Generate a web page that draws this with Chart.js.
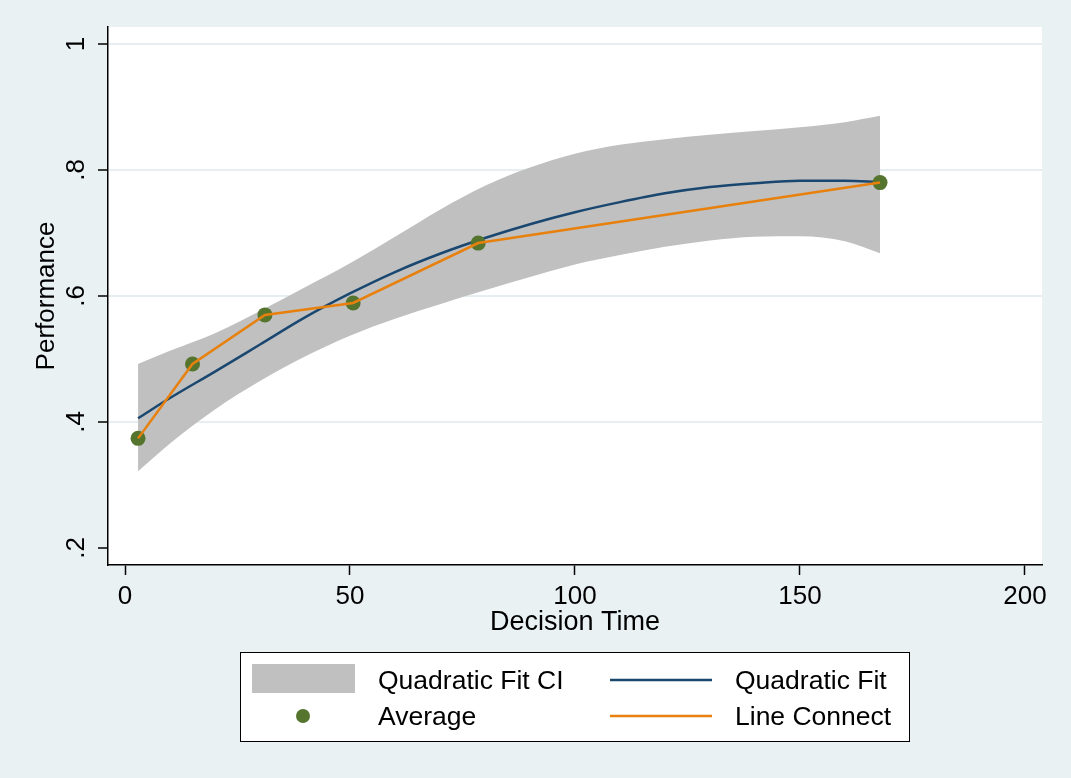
<!DOCTYPE html>
<html>
<head>
<meta charset="utf-8">
<title>Performance vs Decision Time</title>
<script src="https://cdn.jsdelivr.net/npm/chart.js@4"></script>
<style>
  html, body { margin: 0; padding: 0; background: #eaf1f3; }
  canvas { display: block; }
</style>
</head>
<body>
<canvas id="grafica" width="1071" height="778"></canvas>
<script>
// valores
const avgTime = [2.9, 15.0, 31.1, 50.7, 78.5, 167.8];
const avgPerf = [0.374, 0.492, 0.570, 0.589, 0.684, 0.780];

const fitTime = [2.9, 10, 20, 30, 40, 50, 60, 70, 80, 90, 100, 110, 120, 130, 140, 150, 160, 167.8];
const fitPerf = [0.406, 0.438, 0.480, 0.523, 0.566, 0.604, 0.638, 0.667, 0.692, 0.714, 0.733, 0.749, 0.763, 0.773, 0.779, 0.783, 0.783, 0.781];
const ciUpper = [0.492, 0.513, 0.541, 0.576, 0.614, 0.652, 0.694, 0.737, 0.775, 0.804, 0.826, 0.840, 0.849, 0.856, 0.862, 0.868, 0.876, 0.886];
const ciLower = [0.322, 0.366, 0.420, 0.465, 0.504, 0.537, 0.564, 0.587, 0.609, 0.630, 0.650, 0.665, 0.678, 0.688, 0.694, 0.695, 0.687, 0.668];

const xTicks = [0, 50, 100, 150, 200];
const yTicks = [0.2, 0.4, 0.6, 0.8, 1];

const FONT = "'Liberation Sans', Arial, sans-serif";
const GRID = "#e6eef1";

const toPoints = (xs, ys) => xs.map((x, i) => ({ x: x, y: ys[i] }));
const stataLabel = v => (v === 1 ? "1" : String(v).replace("0.", "."));

// fondo blanco del area de trazado
const plotBackground = {
  id: "plotBackground",
  beforeDraw(chart) {
    const { ctx, chartArea: a } = chart;
    ctx.save();
    ctx.fillStyle = "#ffffff";
    ctx.fillRect(a.left, a.top, a.right - a.left, a.bottom - a.top);
    ctx.restore();
  }
};

// etiquetas del eje y giradas, como en Stata
const yLabels = {
  id: "yLabels",
  afterDraw(chart) {
    const { ctx } = chart;
    const y = chart.scales.y;
    ctx.save();
    ctx.fillStyle = "#000";
    ctx.font = "26px " + FONT;
    ctx.textAlign = "center";
    ctx.textBaseline = "middle";
    y.ticks.forEach(t => {
      const py = y.getPixelForValue(t.value);
      ctx.save();
      ctx.translate(77, py);
      ctx.rotate(-Math.PI / 2);
      ctx.fillText(stataLabel(t.value), 0, 0);
      ctx.restore();
    });
    ctx.restore();
  }
};

// leyenda en caja de dos columnas
const boxLegend = {
  id: "boxLegend",
  afterDraw(chart) {
    const { ctx } = chart;
    const ds = chart.data.datasets;
    const band = ds[0], fit = ds[2], avg = ds[3], conn = ds[4];
    ctx.save();
    ctx.fillStyle = "#ffffff";
    ctx.fillRect(240, 652, 669, 89);
    ctx.strokeStyle = "#000";
    ctx.lineWidth = 1;
    ctx.strokeRect(240.5, 652.5, 669, 89);

    const row1 = 680, row2 = 716;
    ctx.fillStyle = band.backgroundColor;
    ctx.fillRect(252, 664, 103, 29);

    ctx.strokeStyle = fit.borderColor;
    ctx.lineWidth = fit.borderWidth;
    ctx.beginPath(); ctx.moveTo(610, row1); ctx.lineTo(712, row1); ctx.stroke();

    ctx.fillStyle = avg.pointBackgroundColor;
    ctx.beginPath(); ctx.arc(303, row2, 7, 0, Math.PI * 2); ctx.fill();

    ctx.strokeStyle = conn.borderColor;
    ctx.lineWidth = conn.borderWidth;
    ctx.beginPath(); ctx.moveTo(610, row2); ctx.lineTo(712, row2); ctx.stroke();

    ctx.fillStyle = "#000";
    ctx.font = "26.5px " + FONT;
    ctx.textAlign = "left";
    ctx.textBaseline = "middle";
    ctx.fillText(band.label, 378, row1 + 2);
    ctx.fillText(fit.label, 735, row1 + 2);
    ctx.fillText(avg.label, 378, row2 + 2);
    ctx.fillText(conn.label, 735, row2 + 2);
    ctx.restore();
  }
};

const ctx = document.getElementById("grafica").getContext("2d");
const chart = new Chart(ctx, {
  type: "line",
  data: {
    datasets: [
      {
        label: "Quadratic Fit CI",
        data: toPoints(fitTime, ciUpper),
        backgroundColor: "#c0c0c0",
        borderWidth: 0,
        pointRadius: 0,
        fill: "+1",
        cubicInterpolationMode: "monotone",
        order: 5
      },
      {
        label: "lower",
        data: toPoints(fitTime, ciLower),
        borderWidth: 0,
        pointRadius: 0,
        fill: false,
        cubicInterpolationMode: "monotone",
        order: 4
      },
      {
        label: "Quadratic Fit",
        data: toPoints(fitTime, fitPerf),
        borderColor: "#1a476f",
        borderWidth: 2.5,
        pointRadius: 0,
        fill: false,
        cubicInterpolationMode: "monotone",
        order: 3
      },
      {
        label: "Average",
        data: toPoints(avgTime, avgPerf),
        showLine: false,
        pointRadius: 7.5,
        pointBackgroundColor: "#55752f",
        pointBorderWidth: 0,
        borderColor: "#55752f",
        order: 2
      },
      {
        label: "Line Connect",
        data: toPoints(avgTime, avgPerf),
        borderColor: "#e8800d",
        borderWidth: 2.5,
        pointRadius: 0,
        fill: false,
        tension: 0,
        order: 1
      }
    ]
  },
  options: {
    responsive: false,
    animation: false,
    layout: { padding: { left: 0, top: 27, right: 29, bottom: 135 } },
    plugins: {
      legend: { display: false },
      tooltip: { enabled: false }
    },
    scales: {
      x: {
        type: "linear",
        min: -3.78,
        max: 203.8,
        afterBuildTicks: s => { s.ticks = xTicks.map(v => ({ value: v })); },
        afterFit: s => { s.height = 78; },
        border: { display: true, color: "#000", width: 1.5 },
        grid: { drawOnChartArea: false, tickLength: 10, tickColor: "#000", tickWidth: 1.5 },
        ticks: { color: "#000", font: { family: FONT, size: 26 }, padding: 6, maxRotation: 0 },
        title: { display: true, text: "Decision Time", color: "#000", font: { family: FONT, size: 27 }, padding: { top: 0, bottom: 4 } }
      },
      y: {
        type: "linear",
        min: 0.173,
        max: 1.027,
        afterBuildTicks: s => { s.ticks = yTicks.map(v => ({ value: v })); },
        afterFit: s => { s.width = 108; },
        border: { display: true, color: "#000", width: 1.5 },
        grid: {
          color: c => (c.tick && c.tick.value === 0.2 ? "rgba(0,0,0,0)" : GRID),
          lineWidth: 2,
          tickLength: 10,
          tickColor: "#000",
          tickWidth: 1.5
        },
        ticks: { display: false },
        title: { display: true, text: "Performance", color: "#000", font: { family: FONT, size: 26 }, padding: { top: 31, bottom: 0 } }
      }
    }
  },
  plugins: [plotBackground, yLabels, boxLegend]
});
</script>
</body>
</html>
